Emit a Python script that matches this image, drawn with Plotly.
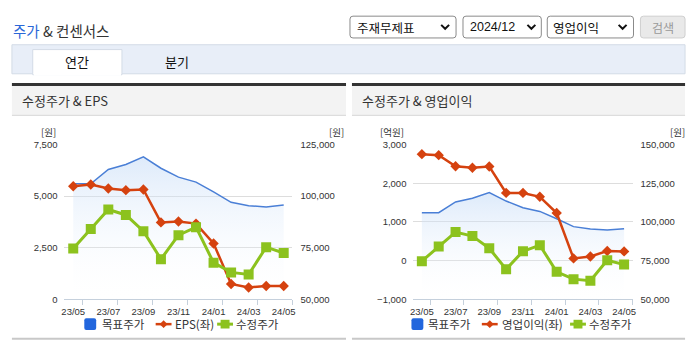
import plotly.graph_objects as go

W, H = 695, 349

# ---------------- data ----------------
months = ["23/05", "23/06", "23/07", "23/08", "23/09", "23/10", "23/11",
          "23/12", "24/01", "24/02", "24/03", "24/04", "24/05"]
target_price = [106000, 106000, 112900, 115300, 119000, 113500, 109200,
                106800, 102100, 97000, 95400, 94800, 95700]
adj_price = [74700, 84100, 93500, 90900, 83000, 69500, 81100,
             85000, 67800, 63100, 62100, 75300, 72500]
eps = [5480, 5560, 5370, 5290, 5320, 3730, 3770, 3670, 2710, 750, 580, 650, 650]
op_income = [2750, 2725, 2440, 2400, 2430, 1750, 1750, 1650, 1230, 60, 110, 250, 240]

left_ticks = [0, 2500, 5000, 7500]
left2_ticks = [-1000, 0, 1000, 2000, 3000]

BLUE = "#4a7fd6"
RED = "#d5420f"
GREEN = "#8cc21e"
FONT = "Liberation Sans, Noto Sans CJK KR, sans-serif"
KFONT = "Noto Sans CJK KR, sans-serif"

idx = list(range(len(months)))


def X(px):
    return px / W


def Y(py):
    return 1 - py / H


fig = go.Figure()

grad = dict(type="vertical",
            colorscale=[[0, "rgba(255,255,255,0)"], [1, "rgba(190,215,246,0.55)"]])

# ---- left chart ----
fig.add_trace(go.Scatter(x=idx, y=target_price, xaxis="x", yaxis="y", mode="lines",
                         line=dict(color=BLUE, width=1.5), fill="tozeroy",
                         fillgradient=dict(grad, start=50000, stop=122000),
                         showlegend=False, hoverinfo="skip"))
fig.add_trace(go.Scatter(x=idx, y=eps, xaxis="x", yaxis="y2", mode="lines+markers",
                         line=dict(color=RED, width=2.5),
                         marker=dict(symbol="diamond", size=8, color=RED),
                         showlegend=False))
fig.add_trace(go.Scatter(x=idx, y=adj_price, xaxis="x", yaxis="y3", mode="lines+markers",
                         line=dict(color=GREEN, width=3),
                         marker=dict(symbol="square", size=10, color=GREEN),
                         showlegend=False))

# ---- right chart ----
fig.add_trace(go.Scatter(x=idx, y=target_price, xaxis="x2", yaxis="y4", mode="lines",
                         line=dict(color=BLUE, width=1.5), fill="tozeroy",
                         fillgradient=dict(grad, start=50000, stop=122000),
                         showlegend=False, hoverinfo="skip"))
fig.add_trace(go.Scatter(x=idx, y=op_income, xaxis="x2", yaxis="y5", mode="lines+markers",
                         line=dict(color=RED, width=2.5),
                         marker=dict(symbol="diamond", size=8, color=RED),
                         showlegend=False))
fig.add_trace(go.Scatter(x=idx, y=adj_price, xaxis="x2", yaxis="y6", mode="lines+markers",
                         line=dict(color=GREEN, width=3),
                         marker=dict(symbol="square", size=10, color=GREEN),
                         showlegend=False))

ydom = [Y(303), Y(143)]
tickfont = dict(family=FONT, size=9.5, color="#333")
AXC = "#c5d0dc"


def xaxis(dom, anchor):
    return dict(domain=dom, anchor=anchor, range=[-0.5, len(months) - 0.5],
                tickmode="array", tickvals=idx[::2], ticktext=months[::2],
                showline=True, linecolor=AXC, linewidth=1, ticks="",
                showgrid=False, zeroline=False, tickfont=tickfont,
                ticklabelstandoff=3, fixedrange=True,
                minor=dict(tickmode="array", tickvals=[i + 0.5 for i in idx[::2]],
                           ticks="outside", ticklen=5, tickcolor=AXC, tickwidth=1,
                           showgrid=False))


fig.update_layout(
    width=W, height=H, autosize=False,
    margin=dict(l=0, r=0, t=0, b=0, pad=0),
    paper_bgcolor="white", plot_bgcolor="rgba(0,0,0,0)",
    xaxis=xaxis([X(62), X(292)], "y"),
    xaxis2=xaxis([X(414), X(635)], "y4"),
    yaxis=dict(domain=ydom, anchor="x", side="right", range=[50000, 125000],
               tickmode="array", tickvals=[50000, 75000, 100000, 125000],
               tickformat=",", showgrid=True, gridcolor="#dddddd", gridwidth=1,
               zeroline=False, showline=False, ticks="", tickfont=tickfont,
               ticklabelstandoff=7),
    yaxis2=dict(overlaying="y", anchor="x", side="left", range=[0, 7500],
                tickmode="array", tickvals=left_ticks, tickformat=",",
                showgrid=False, zeroline=False, showline=False, ticks="",
                tickfont=tickfont, ticklabelstandoff=6),
    yaxis3=dict(overlaying="y", anchor="x", range=[50000, 125000], visible=False),
    yaxis4=dict(domain=ydom, anchor="x2", side="right", range=[50000, 150000],
                tickmode="array", tickvals=[50000, 75000, 100000, 125000, 150000],
                tickformat=",", showgrid=True, gridcolor="#dddddd", gridwidth=1,
                zeroline=False, showline=False, ticks="", tickfont=tickfont,
                ticklabelstandoff=7),
    yaxis5=dict(overlaying="y4", anchor="x2", side="left", range=[-1000, 3000],
                tickmode="array", tickvals=left2_ticks, tickformat=",",
                showgrid=False, zeroline=False, showline=False, ticks="",
                tickfont=tickfont, ticklabelstandoff=6),
    yaxis6=dict(overlaying="y4", anchor="x2", range=[50000, 150000], visible=False),
)

shapes = []
anns = []


def rect(x0, y0, x1, y1, fill, line=None, lw=1, layer="below"):
    shapes.append(dict(type="rect", xref="paper", yref="paper",
                       x0=X(x0), x1=X(x1), y0=Y(y1), y1=Y(y0),
                       fillcolor=fill, layer=layer,
                       line=dict(color=line or "rgba(0,0,0,0)", width=lw if line else 0)))


def hline(x0, x1, y, color, w=1):
    shapes.append(dict(type="line", xref="paper", yref="paper",
                       x0=X(x0), x1=X(x1), y0=Y(y), y1=Y(y),
                       line=dict(color=color, width=w), layer="above"))


def path(pts_str, fill=None, line=None, lw=1, layer="above"):
    shapes.append(dict(type="path", xref="paper", yref="paper", path=pts_str,
                       fillcolor=fill or "rgba(0,0,0,0)", layer=layer,
                       line=dict(color=line or "rgba(0,0,0,0)", width=lw if line else 0)))


def P(x, y):
    return f"{X(x):.5f},{Y(y):.5f}"


def rrect(x0, y0, x1, y1, r, fill, line, lw=1):
    s = (f"M {P(x0 + r, y0)} L {P(x1 - r, y0)} Q {P(x1, y0)} {P(x1, y0 + r)} "
         f"L {P(x1, y1 - r)} Q {P(x1, y1)} {P(x1 - r, y1)} "
         f"L {P(x0 + r, y1)} Q {P(x0, y1)} {P(x0, y1 - r)} "
         f"L {P(x0, y0 + r)} Q {P(x0, y0)} {P(x0 + r, y0)} Z")
    path(s, fill=fill, line=line, lw=lw)


def chevron(cx, cy):
    s = f"M {P(cx - 4, cy - 2)} L {P(cx, cy + 2)} L {P(cx + 4, cy - 2)}"
    path(s, line="#111", lw=2)


def ann(text, x, y, size=12, color="#333", xanchor="left", family=KFONT):
    anns.append(dict(text=text, x=X(x), y=Y(y), xref="paper", yref="paper",
                     xanchor=xanchor, yanchor="middle", showarrow=False,
                     borderpad=0,
                     font=dict(family=family, size=size, color=color)))


# ---- page header ----
ann("<span style='color:#2a67d8'>주가</span> & 컨센서스", 9, 25, size=14.5, color="#333")

rrect(350, 10.5, 457, 33, 3, "white", "#8a8a8a")
ann("주재무제표", 356, 22, size=12.5, color="#111")
chevron(446, 21.5)
rrect(464, 10.5, 543, 33, 3, "white", "#8a8a8a")
ann("2024/12", 470, 22, size=12.5, color="#111", family=FONT)
chevron(533, 21.5)
rrect(549, 10.5, 636, 33, 3, "white", "#8a8a8a")
ann("영업이익", 554, 22, size=12.5, color="#111")
chevron(625, 21.5)
rrect(643, 10.5, 688, 33, 3, "#e9e9e9", "#cfcfcf")
ann("검색", 665.5, 22, size=12, color="#999", xanchor="center")

# tab bar
rect(9, 40, 688, 70, "#e8eef8", "#d3dbe6")
rect(30, 45, 120, 71, "white", "#d3dbe6")
rect(31, 69, 119, 72, "white")
ann("연간", 75, 57.5, size=13, color="#111", xanchor="center")
ann("분기", 176, 57.5, size=13, color="#111", xanchor="center")

# panel headers
for (x0, x1, title) in [(9, 346, "수정주가 & EPS"), (352, 688, "수정주가 & 영업이익")]:
    rect(x0, 82, x1, 113, "#f3f3f3")
    hline(x0, x1, 81, "#333333", 3)
    hline(x0, x1, 113, "#dddddd", 1.2)
    ann(title, x0 + 9, 97.5, size=13, color="#333")
    hline(x0, x1, 343.5, "#c8c8c8", 2)

# unit labels
ann("[원]", 54, 130.5, size=9.5, color="#333", xanchor="right")
ann("[원]", 328, 130.5, size=9.5, color="#333")
ann("[억원]", 406, 130.5, size=9.5, color="#333", xanchor="right")
ann("[원]", 672, 130.5, size=9.5, color="#333")


# ---- legends ----
def legend(bx, tx1, rx, tx2, gx, tx3, label2, yc=328.5):
    rrect(bx, yc - 6, bx + 12, yc + 6, 2, "#2266dd", None)
    ann("목표주가", tx1, yc, size=11.5, color="#333")
    hline(rx, rx + 16, yc, RED, 2.5)
    cx = rx + 8
    path(f"M {P(cx, yc - 4)} L {P(cx + 4, yc)} L {P(cx, yc + 4)} L {P(cx - 4, yc)} Z", fill=RED)
    ann(label2, tx2, yc, size=11.5, color="#333")
    hline(gx, gx + 16, yc, GREEN, 3)
    cx = gx + 8
    rect(cx - 4.5, yc - 4.5, cx + 4.5, yc + 4.5, GREEN, layer="above")
    ann("수정주가", tx3, yc, size=11.5, color="#333")


legend(82, 99, 154, 172, 216, 234, "EPS(좌)")
legend(412, 428, 483, 502, 572, 590, "영업이익(좌)")

fig.update_layout(shapes=shapes, annotations=anns)
fig.write_html("out.html")
